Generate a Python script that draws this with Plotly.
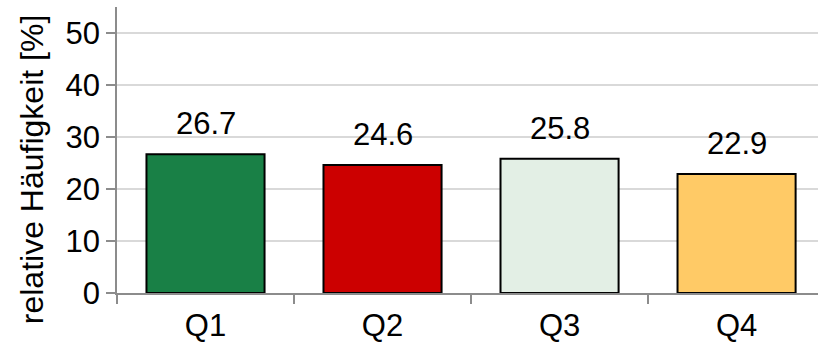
import plotly.graph_objects as go

categories = ["Q1", "Q2", "Q3", "Q4"]
values = [26.7, 24.6, 25.8, 22.9]
bar_colors = ["#198046", "#cc0000", "#e3efe5", "#ffca66"]
y_ticks = [0, 10, 20, 30, 40, 50]
y_title = "relative Häufigkeit [%]"

font_family = "Liberation Sans, Arial, sans-serif"
font_size = 31
axis_gray = "#8c8c8c"

fig = go.Figure()
fig.add_trace(go.Bar(
    x=categories,
    y=values,
    marker=dict(color=bar_colors, line=dict(color="#000000", width=2)),
    width=0.667,
    showlegend=False,
))

# value labels above each bar
for c, v in zip(categories, values):
    fig.add_annotation(
        x=c, y=v, text=f"{v:.1f}", showarrow=False,
        yanchor="bottom", yshift=11,
        font=dict(family=font_family, size=font_size, color="#000000"),
    )

# rotated y-axis title, placed left of the tick labels
fig.add_annotation(
    xref="paper", yref="paper", x=-0.121, y=0.43,
    text=y_title, textangle=-90, showarrow=False,
    xanchor="center", yanchor="middle",
    font=dict(family=font_family, size=32, color="#000000"),
)

fig.update_layout(
    width=818, height=347,
    margin=dict(l=117, r=0, t=7, b=54),
    paper_bgcolor="white", plot_bgcolor="white",
    font=dict(family=font_family, size=font_size, color="#000000"),
    bargap=0.333,
)
fig.update_xaxes(
    type="category",
    range=[-0.5, 3.46],
    showline=True, linecolor=axis_gray, linewidth=1.5,
    ticks="outside", tickson="boundaries", ticklen=9, tickcolor=axis_gray, tickwidth=1.5,
    ticklabelstandoff=4,
    showgrid=False, zeroline=False,
    tickfont=dict(family=font_family, size=font_size, color="#000000"),
)
fig.update_yaxes(
    range=[0, 55],
    tickvals=y_ticks,
    showline=True, linecolor=axis_gray, linewidth=1.5,
    ticks="outside", ticklen=9, tickcolor=axis_gray, tickwidth=1.5,
    showgrid=True, gridcolor="#d9d9d9", gridwidth=1.5,
    zeroline=False,
    tickfont=dict(family=font_family, size=font_size, color="#000000"),
)

fig.write_html("out.html")
